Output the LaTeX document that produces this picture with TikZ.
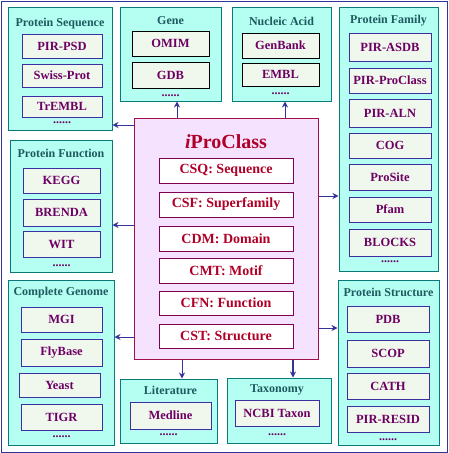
\documentclass[tikz,border=0pt]{standalone}
\usepackage{fontspec}
\setmainfont{Liberation Serif}
\usetikzlibrary{arrows.meta}
\definecolor{grpfill}{HTML}{B4FFF2}
\definecolor{grpline}{HTML}{0A7A78}
\definecolor{grptext}{HTML}{1E5A5F}
\definecolor{dbfill}{HTML}{F0F8EE}
\definecolor{dbline}{HTML}{3A30A0}
\definecolor{dbtext}{HTML}{6E0064}
\definecolor{ipcfill}{HTML}{F4E2FF}
\definecolor{ipcline}{HTML}{A0104C}
\definecolor{ipctext}{HTML}{B00028}
\definecolor{clsline}{HTML}{800058}
\definecolor{arrblue}{HTML}{333399}
\begin{document}
\begin{tikzpicture}[x=1pt, y=-1pt,
  grp/.style={draw=grpline, fill=grpfill, line width=1pt, inner sep=0pt},
  grptitle/.style={inner sep=0pt, text=grptext, font=\fontsize{12}{14}\selectfont\bfseries},
  db/.style={draw=dbline, fill=dbfill, line width=1pt, minimum height=25pt, inner sep=0pt, text=dbtext, font=\fontsize{12.5}{14}\selectfont\bfseries},
  dbk/.style={db, draw=black},
  dots/.style={inner sep=0pt, text=dbtext, font=\fontsize{12}{14}\selectfont\bfseries},
  cls/.style={draw=clsline, fill=white, line width=1pt, minimum width=134pt, minimum height=25pt, inner sep=0pt, text=ipctext, font=\fontsize{14}{16}\selectfont\bfseries},
  arr/.style={draw=arrblue, line width=1pt, -{Stealth[length=6pt, width=6pt]}}]
\useasboundingbox (0,0) rectangle (448,453);
\draw[arrblue, line width=1pt] (1,1) rectangle (447,452);
% protein sequence
\node[grp, minimum width=104pt, minimum height=123pt] (pseq) at (60,68.5) {};
\node[grptitle] (pseqtitle) at (60,24) {Protein Sequence};
\node[db, minimum width=80pt, minimum height=24pt] (pirpsd) at (62,46) {PIR-PSD};
\node[db, minimum width=80pt, minimum height=23pt] (swissprot) at (62,75.5) {Swiss-Prot};
\node[db, minimum width=80pt, minimum height=21pt] (trembl) at (62,106.5) {TrEMBL};
\node[dots] (pseqdots) at (62,123) {......};
% gene
\node[grp, minimum width=101pt, minimum height=94pt] (gene) at (170.5,54) {};
\node[grptitle] (genetitle) at (170.5,21) {Gene};
\node[dbk, minimum width=77pt] (omim) at (170.5,43.5) {OMIM};
\node[dbk, minimum width=77pt, minimum height=26pt] (gdb) at (170.5,75) {GDB};
\node[dots] (genedots) at (170.5,96) {......};
% nucleic acid
\node[grp, minimum width=99pt, minimum height=94pt] (nucl) at (281.5,54) {};
\node[grptitle] (nucltitle) at (281.5,21) {Nucleic Acid};
\node[dbk, minimum width=77pt] (genbank) at (280.5,45.5) {GenBank};
\node[dbk, minimum width=77pt, minimum height=23pt] (embl) at (280.5,74.5) {EMBL};
\node[dots] (nucldots) at (280.5,94) {......};
% protein family
\node[grp, minimum width=99pt, minimum height=264pt] (pfam) at (388.5,139) {};
\node[grptitle] (pfamtitle) at (388.5,21) {Protein Family};
\node[db, minimum width=82pt, minimum height=28pt] (pirasdb) at (390,47) {PIR-ASDB};
\node[db, minimum width=82pt] (pirproclass) at (390,80.5) {PIR-ProClass};
\node[db, minimum width=82pt, minimum height=28pt] (piraln) at (390,113) {PIR-ALN};
\node[db, minimum width=82pt] (cog) at (390,145.5) {COG};
\node[db, minimum width=82pt, minimum height=26pt] (prosite) at (390,177) {ProSite};
\node[db, minimum width=82pt] (pfamdb) at (390,209.5) {Pfam};
\node[db, minimum width=82pt, minimum height=27pt] (blocks) at (390,242.5) {BLOCKS};
\node[dots] (pfamdots) at (390,262) {......};
% protein function
\node[grp, minimum width=102pt, minimum height=132pt] (pfun) at (61,206) {};
\node[grptitle] (pfuntitle) at (61,153) {Protein Function};
\node[db, minimum width=77pt] (kegg) at (61.5,180.5) {KEGG};
\node[db, minimum width=77pt, minimum height=27pt] (brenda) at (61.5,212.5) {BRENDA};
\node[db, minimum width=77pt, minimum height=26pt] (wit) at (61.5,244) {WIT};
\node[dots] (pfundots) at (61.5,266) {......};
% complete genome
\node[grp, minimum width=106pt, minimum height=165pt] (cgen) at (61,362.5) {};
\node[grptitle] (cgentitle) at (61,293) {Complete Genome};
\node[db, minimum width=81pt] (mgi) at (61.5,319.5) {MGI};
\node[db, minimum width=81pt, minimum height=27pt] (flybase) at (61.5,352.5) {FlyBase};
\node[db, minimum width=81pt, minimum height=24pt] (yeast) at (59.5,385) {Yeast};
\node[db, minimum width=81pt, minimum height=26pt] (tigr) at (61.5,417) {TIGR};
\node[dots] (cgendots) at (61.5,437) {......};
% literature
\node[grp, minimum width=97pt, minimum height=64pt] (lit) at (168.5,411) {};
\node[grptitle] (littitle) at (170.5,390) {Literature};
\node[db, minimum width=81pt, minimum height=27pt] (medline) at (170.5,415.5) {Medline};
\node[dots] (litdots) at (168.5,435) {......};
% taxonomy
\node[grp, minimum width=104pt, minimum height=65pt] (tax) at (279,410.5) {};
\node[grptitle] (taxtitle) at (277,390) {Taxonomy};
\node[db, minimum width=84pt, minimum height=26pt] (ncbitaxon) at (277,413) {NCBI Taxon};
\node[dots] (taxdots) at (277,435) {......};
% protein structure
\node[grp, minimum width=101pt, minimum height=165pt] (pstr) at (388.5,362.5) {};
\node[grptitle] (pstrtitle) at (388.5,292) {Protein Structure};
\node[db, minimum width=82pt, minimum height=26pt] (pdb) at (388,319) {PDB};
\node[db, minimum width=82pt, minimum height=27pt] (scop) at (388,353.5) {SCOP};
\node[db, minimum width=82pt, minimum height=26pt] (cath) at (388,386) {CATH};
\node[db, minimum width=82pt, minimum height=26pt] (pirresid) at (388,419) {PIR-RESID};
\node[dots] (pstrdots) at (388,440) {......};
% iProClass
\node[draw=ipcline, fill=ipcfill, line width=1pt, minimum width=184pt, minimum height=241pt, inner sep=0pt] (ipc) at (226,238.5) {};
\node[inner sep=0pt, text=ipctext, font=\fontsize{20}{22}\selectfont\bfseries] (ipctitle) at (226,142) {\textit{i}ProClass};
\node[cls] (csq) at (226,170.5) {CSQ: Sequence};
\node[cls] (csf) at (226,204.5) {CSF: Superfamily};
\node[cls] (cdm) at (226,238.5) {CDM: Domain};
\node[cls] (cmt) at (226,270.5) {CMT: Motif};
\node[cls, minimum height=24pt] (cfn) at (226,303) {CFN: Function};
\node[cls, minimum height=24pt] (cst) at (226,336) {CST: Structure};
% links
\draw[arr] (ipc.west |- 0,125) -- (pseq.east |- 0,125);
\draw[arr] (ipc.north -| 177,0) -- (gene.south -| 177,0);
\draw[arr] (ipc.north -| 285,0) -- (nucl.south -| 285,0);
\draw[arr] (ipc.east |- 0,196) -- (pfam.west |- 0,196);
\draw[arr] (ipc.west |- 0,225) -- (pfun.east |- 0,225);
\draw[arr] (ipc.west |- 0,337) -- (cgen.east |- 0,337);
\draw[arr] (ipc.south -| 182,0) -- (lit.north -| 182,0);
\draw[arr, line width=2pt] (ipc.south -| 293,0) -- (tax.north -| 293,0);
\draw[arr] (ipc.east |- 0,328) -- (pstr.west |- 0,328);
\end{tikzpicture}
\end{document}
